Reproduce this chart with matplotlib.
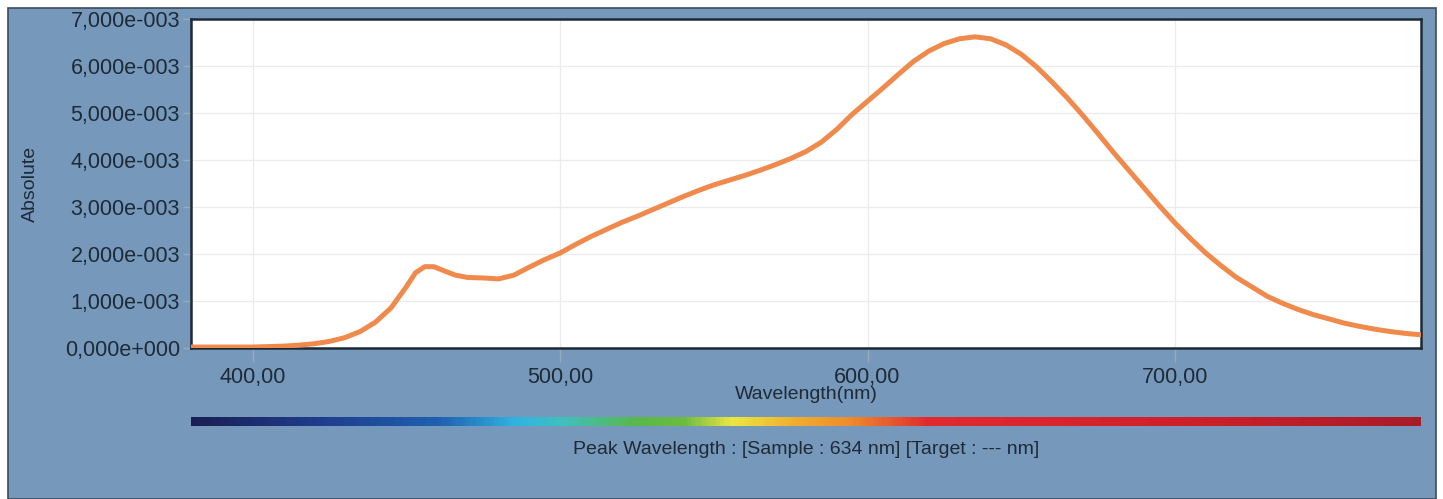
import numpy as np
import matplotlib
matplotlib.use("Agg")
import matplotlib.pyplot as plt
from matplotlib.patches import Rectangle
from matplotlib.ticker import FuncFormatter, MultipleLocator
from matplotlib.colors import LinearSegmentedColormap

plt.rcParams['font.family'] = ['Liberation Sans', 'DejaVu Sans']

# spectrum (absolute units x 1e-3)
wavelength = [380, 385, 390, 395, 400, 405, 410, 415, 420, 425,
              430, 435, 440, 445, 450, 453, 456, 459, 462, 466,
              470, 475, 480, 485, 490, 495, 500, 505, 510, 515,
              520, 525, 530, 535, 540, 545, 550, 555, 560, 565,
              570, 575, 580, 585, 590, 595, 600, 605, 610, 615,
              620, 625, 630, 635, 640, 645, 650, 655, 660, 665,
              670, 675, 680, 685, 690, 695, 700, 705, 710, 715,
              720, 725, 730, 735, 740, 745, 750, 755, 760, 765,
              770, 775, 780]
absolute = [0.02, 0.02, 0.02, 0.02, 0.02, 0.03, 0.04, 0.06, 0.09, 0.14,
            0.22, 0.35, 0.55, 0.85, 1.30, 1.60, 1.73, 1.73, 1.65, 1.55,
            1.50, 1.49, 1.47, 1.55, 1.72, 1.88, 2.02, 2.20, 2.37, 2.52,
            2.67, 2.80, 2.94, 3.08, 3.22, 3.35, 3.47, 3.57, 3.67, 3.78,
            3.90, 4.03, 4.18, 4.38, 4.65, 4.97, 5.25, 5.53, 5.82, 6.10,
            6.32, 6.48, 6.58, 6.62, 6.58, 6.45, 6.25, 5.98, 5.66, 5.32,
            4.95, 4.56, 4.16, 3.78, 3.40, 3.02, 2.66, 2.33, 2.02, 1.75,
            1.50, 1.30, 1.10, 0.95, 0.82, 0.71, 0.62, 0.53, 0.46, 0.40,
            0.35, 0.31, 0.28]
absolute = [a * 1e-3 for a in absolute]

x_ticks = [400, 500, 600, 700]
peak_text = "Peak Wavelength : [Sample : 634 nm] [Target : --- nm]"

# colour bar stops (nm, colour)
bar_nm = [380, 420, 460, 485, 500, 525, 540, 556, 575, 595, 620, 700, 780]
bar_col = ['#1b1f55', '#1f3c8c', '#2060b0', '#30b4e0', '#40c0c0', '#5ab848',
           '#6cbc40', '#ece840', '#f0b030', '#ee8a2c', '#e02a30', '#d0202c', '#a81c28']

W, H = 1443, 499
fig = plt.figure(figsize=(W / 100, H / 100), dpi=100)
fig.patch.set_facecolor('white')

# blue panel behind everything
panel = Rectangle((8 / W, 0), (1436 - 8) / W, (H - 8) / H, transform=fig.transFigure,
                  facecolor='#7698bb', edgecolor='#3c4c5c', lw=1.2, zorder=-10)
fig.add_artist(panel)

ax = fig.add_axes([191 / W, (H - 348) / H, 1230 / W, 329 / H])
ax.set_facecolor('white')
ax.plot(wavelength, absolute, color='#f08a4c', lw=3.6, solid_capstyle='round',
        solid_joinstyle='round', zorder=3)

ax.set_xlim(380, 780)
ax.set_ylim(0, 7e-3)
ax.set_xticks(x_ticks)
ax.yaxis.set_major_locator(MultipleLocator(1e-3))


def fmt_y(v, pos):
    s = f"{v:.3e}"
    mant, exp = s.split('e')
    sign = exp[0]
    return mant.replace('.', ',') + 'e' + sign + exp[1:].zfill(3)


ax.yaxis.set_major_formatter(FuncFormatter(fmt_y))
ax.xaxis.set_major_formatter(FuncFormatter(lambda v, p: f"{v:.2f}".replace('.', ',')))

ax.grid(True, color='#ebebeb', lw=0.9)
ax.set_axisbelow(True)
for s in ax.spines.values():
    s.set_color('#1d2a36')
    s.set_linewidth(1.8)

ax.tick_params(axis='both', colors='#9aa9b8', labelcolor='#1e2a36', labelsize=15.5)
ax.tick_params(axis='y', length=6, width=1, pad=2)
ax.tick_params(axis='x', length=10, width=1, pad=4)

ax.set_xlabel("Wavelength(nm)", fontsize=14, color='#1e2a36', labelpad=-2)
ax.set_ylabel("Absolute", fontsize=14, color='#1e2a36')
ax.yaxis.set_label_coords(-0.124, 0.5)

# colour bar below the plot
cmap = LinearSegmentedColormap.from_list(
    'spec', [((n - 380) / 400, c) for n, c in zip(bar_nm, bar_col)])
cax = fig.add_axes([191 / W, (H - 426) / H, 1230 / W, 9 / H])
cax.imshow(np.linspace(0, 1, 600)[None, :], aspect='auto', cmap=cmap,
           extent=[380, 780, 0, 1])
cax.set_axis_off()

fig.text(806 / W, (H - 450) / H, peak_text, ha='center', va='center',
         fontsize=14, color='#1e2a36')

fig.savefig("out.png", dpi=100, facecolor=fig.get_facecolor())
